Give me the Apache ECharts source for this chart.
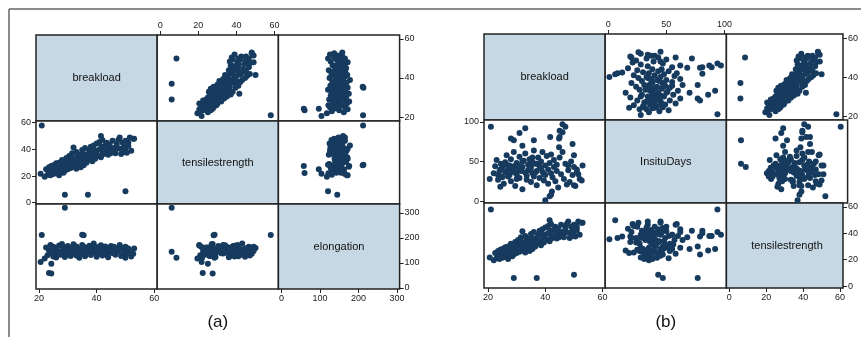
<!DOCTYPE html>
<html>
<head>
<meta charset="utf-8">
<script src="https://cdn.jsdelivr.net/npm/echarts@6/dist/echarts.min.js"></script>
<style>
  html, body { margin: 0; padding: 0; background: #fff; }
  #chart { width: 861px; height: 337px; }
</style>
</head>
<body>
<div id="chart"></div>
<script>
// one observation per index, shared by both matrices
const breakload = [
  21, 29, 37, 50, 35.5, 35, 20.6, 24.3, 23.5, 24.3, 40, 42, 42.3, 41.5, 33, 46, 45, 36, 41.7, 44.8,
  49.5, 44.8, 52.7, 51, 50, 51.5, 48, 47, 46, 45, 31, 28, 32, 32,
  22.0, 22.5, 23.0, 23.5, 24.0, 24.5, 25.0, 25.0, 25.5, 26.0, 26.0, 26.5, 27.0, 27.0, 27.5, 28.0,
  28.0, 28.5, 29.0, 29.0, 29.5, 30.0, 30.0, 30.5, 31.0, 31.0, 31.5, 32.0, 32.0, 32.5, 33.0, 33.0,
  33.5, 34.0, 34.0, 34.5, 35.0, 35.0, 35.5, 36.0, 36.0, 36.5, 37.0, 37.0, 37.5, 38.0, 38.0, 38.5,
  39.0, 39.0, 39.5, 40.0, 40.0, 40.5, 41.0, 41.0, 41.5, 42.0, 42.0, 42.5, 43.0, 43.0, 43.5, 44.0,
  44.0, 44.5, 45.0, 45.5, 46.0, 46.5, 47.0, 47.5, 48.0, 48.5, 49.0, 49.5, 50.0, 50.5, 51.0, 52.0,
  53.0, 27.5, 28.5, 29.5, 30.5, 31.5, 33.5, 34.5, 36.5, 38.5, 24.5, 26.5, 30.0, 35.5, 39.5
];
const tensileStrength = [
  58, 6, 6, 8.5, 28, 28.5, 21.7, 25, 22.3, 27.5, 35.5, 36.5, 37.5, 50, 28, 39, 38, 30, 42, 37.5,
  42, 37, 48, 45, 41, 49, 49, 41, 38, 40, 27, 24, 28, 41.5,
  19.5, 25.0, 21.0, 26.5, 20.5, 24.0, 28.0, 21.5, 25.5, 22.0, 29.5, 24.5, 20.5, 30.0, 23.0, 27.5,
  32.0, 22.5, 29.0, 24.0, 33.5, 25.0, 30.5, 35.0, 26.0, 31.5, 37.0, 27.0, 33.0, 29.5, 25.5, 38.0,
  32.0, 28.5, 36.0, 26.5, 33.0, 39.5, 29.0, 35.0, 41.0, 30.0, 36.5, 32.0, 39.0, 34.0, 42.0, 31.0,
  37.5, 43.0, 33.0, 39.0, 44.5, 35.0, 40.0, 45.5, 34.0, 41.5, 47.0, 36.5, 43.0, 38.0, 45.0, 40.5,
  36.0, 43.5, 39.0, 46.5, 41.0, 37.0, 44.0, 47.0, 40.5, 36.5, 45.0, 38.0, 46.5, 37.5, 42.5, 39.0,
  48.0, 26.0, 25.0, 27.0, 28.0, 34.0, 35.0, 30.5, 33.5, 40.0, 22.5, 27.0, 29.0, 36.5, 35.5
];
const elongation = [
  212, 321, 145, 121, 211, 213, 104, 97, 60, 58, 150, 142, 155, 160, 150, 140, 158, 148, 152, 147,
  155, 160, 137, 158, 145, 148, 165, 148, 165, 142, 155, 140, 150, 148,
  118, 162, 131, 150, 172, 140, 126, 165, 147, 122, 158, 137, 170, 145, 133, 176,
  144, 155, 124, 162, 149, 135, 168, 152, 128, 160, 143, 175, 138, 154, 130, 166,
  147, 121, 157, 141, 172, 136, 151, 163, 127, 158, 145, 139, 169, 150, 132, 161,
  146, 178, 142, 155, 125, 164, 137, 152, 171, 144, 130, 160, 148, 166, 135, 157,
  123, 153, 168, 140, 162, 133, 156, 147, 172, 128, 159, 143, 165, 137, 151, 126,
  158, 145, 152, 138, 148, 156, 141, 150, 147, 154, 143, 149, 139, 152, 146
];
const insituDays = [
  94, 77, 47, 43, 55, 48, 28, 18, 33, 40, 1, 8, 12, 6, 92, 97, 89, 77, 81, 79,
  72, 68, 26, 40, 20, 34, 45, 94, 87, 81, 86, 79, 70, 50,
  35, 44, 52, 27, 38, 47, 30, 42, 22, 36, 49, 58, 31, 40, 45, 25,
  53, 37, 62, 44, 19, 34, 48, 41, 29, 56, 38, 15, 43, 51, 36, 60,
  27, 46, 39, 53, 24, 42, 35, 64, 31, 47, 20, 38, 55, 44, 29, 50,
  37, 62, 26, 45, 33, 57, 40, 22, 48, 35, 59, 30, 43, 52, 25, 46,
  38, 17, 55, 34, 62, 28, 47, 21, 39, 24, 50, 33, 58, 19, 37, 28,
  45, 33, 41, 36, 45, 39, 32, 41, 36, 42, 31, 46, 28, 49, 34
];

const breakloadTicks = [20, 40, 60];
const tensileTicks = [0, 20, 40, 60];
const elongationTicks = [0, 100, 200, 300];
const insituTicks = [0, 50, 100];

const matrices = [
  {
    caption: '(a)', left: 36, top: 35,
    vars: [
      { name: 'breakload', values: breakload, ticks: breakloadTicks, xr: [19, 61], yr: [18, 62] },
      { name: 'tensilestrength', values: tensileStrength, ticks: tensileTicks, xr: [-1.6, 62], yr: [-1, 61.3] },
      { name: 'elongation', values: elongation, ticks: elongationTicks, xr: [-8, 307], yr: [-4, 336] }
    ]
  },
  {
    caption: '(b)', left: 484, top: 34,
    vars: [
      { name: 'breakload', values: breakload, ticks: breakloadTicks, xr: [18.6, 60.9], yr: [18, 62.1] },
      { name: 'InsituDays', values: insituDays, ticks: insituTicks, xr: [-2.6, 101.7], yr: [-2.5, 102.5] },
      { name: 'tensilestrength', values: tensileStrength, ticks: tensileTicks, xr: [-1.6, 61.6], yr: [-1.5, 63] }
    ]
  }
];

const cellW = 121.2;
const rowH = [86, 83, 85];
const dotColor = '#173b5e';
const ink = '#222';

const grid = [], xAxis = [], yAxis = [], series = [], graphic = [];

function axisStyle(show, ticks) {
  const s = {
    axisLine: { show: false, onZero: false },
    splitLine: { show: false },
    axisTick: { show: false },
    axisLabel: { show: false }
  };
  if (show) {
    s.axisTick = { show: true, length: 4, customValues: ticks, lineStyle: { color: ink, width: 1 } };
    s.axisLabel = { show: true, customValues: ticks, fontSize: 9, color: ink, margin: 5, fontFamily: 'Liberation Sans' };
  }
  return s;
}

matrices.forEach(m => {
  let y0 = m.top;
  for (let r = 0; r < 3; r++) {
    for (let c = 0; c < 3; c++) {
      const gi = grid.length;
      const left = m.left + c * cellW;
      grid.push({
        left, top: y0, width: cellW, height: rowH[r],
        show: true, borderColor: ink, borderWidth: 1.5,
        backgroundColor: r === c ? '#c6d8e3' : '#fff'
      });
      const vx = m.vars[c], vy = m.vars[r];
      const topLab = r === 0 && c === 1;
      const botLab = r === 2 && (c === 0 || c === 2);
      const leftLab = c === 0 && r === 1;
      const rightLab = c === 2 && (r === 0 || r === 2);
      xAxis.push(Object.assign({
        gridIndex: gi, type: 'value', min: vx.xr[0], max: vx.xr[1],
        position: topLab ? 'top' : 'bottom'
      }, axisStyle(topLab || botLab, vx.ticks)));
      yAxis.push(Object.assign({
        gridIndex: gi, type: 'value', min: vy.yr[0], max: vy.yr[1],
        position: leftLab ? 'left' : 'right'
      }, axisStyle(leftLab || rightLab, vy.ticks)));
      if (r === c) {
        graphic.push({
          type: 'text',
          style: {
            text: vx.name, x: left + cellW / 2, y: y0 + rowH[r] / 2,
            align: 'center', verticalAlign: 'middle',
            fill: '#111', font: '11px "Liberation Sans"'
          }
        });
      } else {
        series.push({
          type: 'scatter', xAxisIndex: gi, yAxisIndex: gi,
          data: vx.values.map((v, i) => [v, vy.values[i]]),
          symbolSize: 6, itemStyle: { color: dotColor, opacity: 1 }, silent: true
        });
      }
    }
    y0 += rowH[r];
  }
  graphic.push({
    type: 'text',
    style: {
      text: m.caption, x: m.left + cellW * 1.5, y: 322,
      align: 'center', verticalAlign: 'middle',
      fill: '#111', font: '17px "Liberation Sans"'
    }
  });
});

// thin frame around the figure (only top and left edges are visible)
graphic.push({ type: 'line', shape: { x1: 9, y1: 9, x2: 861, y2: 9 }, style: { stroke: '#666', lineWidth: 1.5 } });
graphic.push({ type: 'line', shape: { x1: 9, y1: 9, x2: 9, y2: 337 }, style: { stroke: '#666', lineWidth: 1.5 } });

const chart = echarts.init(document.getElementById('chart'));
chart.setOption({
  animation: false,
  backgroundColor: '#fff',
  grid, xAxis, yAxis, series, graphic
});
</script>
</body>
</html>
